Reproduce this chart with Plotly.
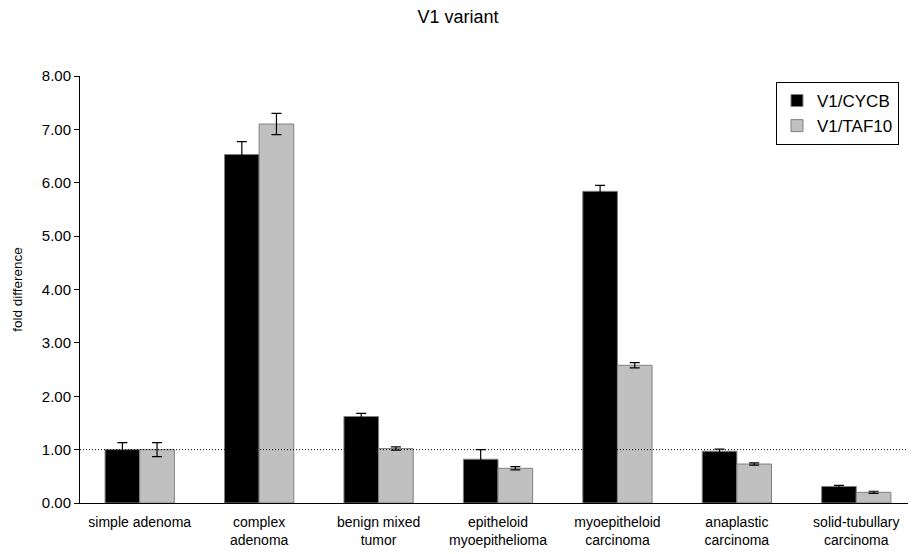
import plotly.graph_objects as go

categories = ["simple adenoma", "complex<br>adenoma", "benign mixed<br>tumor",
              "epitheloid<br>myoepithelioma", "myoepitheloid<br>carcinoma",
              "anaplastic<br>carcinoma", "solid-tubullary<br>carcinoma"]
cycb = [1.00, 6.53, 1.62, 0.82, 5.84, 0.97, 0.31]
cycb_err = [0.13, 0.24, 0.06, 0.18, 0.11, 0.04, 0.02]
taf10 = [1.00, 7.10, 1.02, 0.65, 2.58, 0.73, 0.20]
taf10_err = [0.13, 0.20, 0.03, 0.03, 0.05, 0.02, 0.02]
y_ticks = [0, 1, 2, 3, 4, 5, 6, 7, 8]

FONT = "Liberation Sans, Arial, sans-serif"

fig = go.Figure()
fig.add_trace(go.Bar(
    x=categories, y=cycb, name="V1/CYCB",
    marker=dict(color="#000000", line=dict(color="#808080", width=1)),
    error_y=dict(type="data", array=cycb_err, color="#000000", thickness=1.2, width=5),
))
fig.add_trace(go.Bar(
    x=categories, y=taf10, name="V1/TAF10",
    marker=dict(color="#C0C0C0", line=dict(color="#808080", width=1)),
    error_y=dict(type="data", array=taf10_err, color="#000000", thickness=1.2, width=5),
))

fig.add_shape(type="line", xref="paper", yref="y", x0=0, x1=1, y0=1, y1=1,
              line=dict(color="#000000", width=1, dash="1px,2px"))

# page body has an 8px default margin; margins compensate for it
fig.update_layout(
    width=916, height=554,
    margin=dict(l=72, r=8, t=68, b=59),
    paper_bgcolor="white", plot_bgcolor="white",
    barmode="group", bargap=0.42, bargroupgap=0,
    font=dict(family=FONT, color="#000000"),
    title=dict(text="V1 variant", x=(458 - 8) / 916, xanchor="center",
               y=1 - 9 / 554, yanchor="middle",
               font=dict(size=18, family=FONT)),
    showlegend=True,
    legend=dict(x=0.8325, y=0.986, xanchor="left", yanchor="top",
                bgcolor="white", bordercolor="#000000", borderwidth=1,
                font=dict(size=17, family=FONT), tracegroupgap=6, itemwidth=30),
    xaxis=dict(showline=True, linecolor="#000000", linewidth=1, ticks="",
               tickfont=dict(size=14, family=FONT), showgrid=False, automargin=False,
               ticklabelstandoff=6),
    yaxis=dict(range=[0, 8], tickvals=y_ticks, tickformat=".2f",
               showline=True, linecolor="#000000", linewidth=1,
               ticks="outside", ticklen=5, tickcolor="#000000",
               showgrid=False, zeroline=False, automargin=False,
               tickfont=dict(size=15, family=FONT),
               title=dict(text="fold difference", font=dict(size=13.5, family=FONT), standoff=16)),
)

fig.write_html("out.html")
